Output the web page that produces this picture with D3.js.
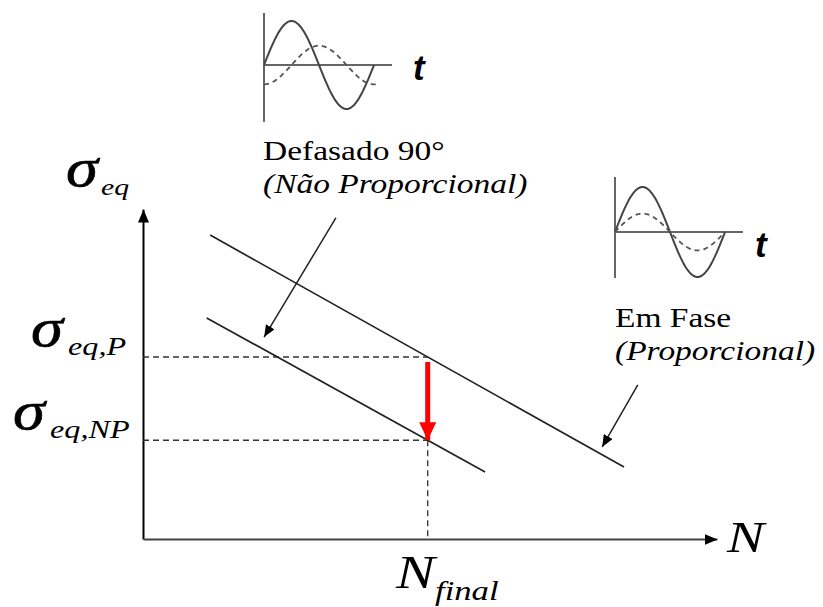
<!DOCTYPE html>
<html><head><meta charset="utf-8">
<script src="https://cdn.jsdelivr.net/npm/d3@7"></script>
<style>body{margin:0;background:#fff} svg{display:block}</style>
</head><body>
<svg id="chart" width="823" height="607"></svg>
<script>
// Stress vs. life curves, in abstract units (0..100 on both axes)
const inPhaseCurve = [{n: 11.7, s: 92.1}, {n: 83.8, s: 21.8}];
const outOfPhaseCurve = [{n: 11.1, s: 67.0}, {n: 59.6, s: 20.3}];
const nFinal = 49.6;
// Leader arrows from the captions to the curves
const pointerOutOfPhase = [{n: 33.6, s: 97.3}, {n: 21.1, s: 61.2}];
const pointerInPhase = [{n: 86.2, s: 46.7}, {n: 80.0, s: 27.9}];
// Inset waveforms: lag of the dashed signal (deg), its relative amplitude, and where it stops (deg)
const insetPhaseLag = [90, 0];
const insetDashedAmp = [0.44, 0.41];
const insetDashedEnd = [373, 352];

const svg = d3.select("#chart");
const x = d3.scaleLinear().domain([0, 100]).range([143, 717]);
const y = d3.scaleLinear().domain([0, 100]).range([539, 209]);
const SX = 1.24; // horizontal stretch of the lettering

const defs = svg.append("defs");
function marker(id, color, len, half) {
  defs.append("marker").attr("id", id)
    .attr("markerUnits", "userSpaceOnUse")
    .attr("viewBox", `0 ${-half} ${len} ${2 * half}`)
    .attr("refX", len).attr("refY", 0)
    .attr("markerWidth", len).attr("markerHeight", 2 * half)
    .attr("orient", "auto")
    .append("path").attr("d", `M0,${-half}L${len},0L0,${half}Z`).attr("fill", color);
}
marker("axisHead", "#000", 13, 5.5);
marker("leadHead", "#000", 12, 5);
marker("redHead", "#ff0000", 18, 8.5);

// Axes: bare domain lines with arrowheads
const gy = svg.append("g").attr("transform", `translate(${x(0)},0)`)
  .call(d3.axisLeft(y).tickValues([]).tickSizeOuter(0));
gy.select(".domain").attr("stroke", "#000").attr("stroke-width", 2).attr("marker-end", "url(#axisHead)");
const gx = svg.append("g").attr("transform", `translate(0,${y(0)})`)
  .call(d3.axisBottom(x).tickValues([]).tickSizeOuter(0));
gx.select(".domain").attr("stroke", "#444").attr("stroke-width", 2).attr("marker-end", "url(#axisHead)");

const line = d3.line().x(d => x(d.n)).y(d => y(d.s));
function at(curve, n) {
  const [a, b] = curve;
  return a.s + (b.s - a.s) * (n - a.n) / (b.n - a.n);
}
const sigmaP = at(inPhaseCurve, nFinal);
const sigmaNP = at(outOfPhaseCurve, nFinal);

// Dashed guides
const guide = svg.append("g").attr("stroke", "#333").attr("stroke-width", 1.3)
  .attr("stroke-dasharray", "6,4").attr("fill", "none");
guide.append("path").attr("d", line([{n: 0, s: sigmaP}, {n: nFinal, s: sigmaP}]));
guide.append("path").attr("d", line([{n: 0, s: sigmaNP}, {n: nFinal, s: sigmaNP}]));
guide.append("path").attr("d", line([{n: nFinal, s: sigmaNP}, {n: nFinal, s: 0}]));

// Curves
svg.append("path").attr("d", line(inPhaseCurve)).attr("stroke", "#222").attr("stroke-width", 1.7).attr("fill", "none");
svg.append("path").attr("d", line(outOfPhaseCurve)).attr("stroke", "#222").attr("stroke-width", 1.7).attr("fill", "none");

// Leader arrows
[pointerOutOfPhase, pointerInPhase].forEach(p => {
  svg.append("path").attr("d", line(p)).attr("stroke", "#222").attr("stroke-width", 1.5)
    .attr("fill", "none").attr("marker-end", "url(#leadHead)");
});

// Drop in strength at N_final
svg.append("path")
  .attr("d", `M${x(nFinal)},${y(sigmaP) + 5}L${x(nFinal)},${y(sigmaNP)}`)
  .attr("stroke", "#ff0000").attr("stroke-width", 5).attr("fill", "none")
  .attr("marker-end", "url(#redHead)");

// Waveform insets
function inset(i, ox, oy, amp, axTop, axBottom, axRight) {
  const g = svg.append("g");
  const xs = d3.scaleLinear().domain([0, 360]).range([ox, ox + 110]);
  const ys = d3.scaleLinear().domain([-1, 1]).range([oy + amp, oy - amp]);
  g.append("line").attr("x1", ox).attr("x2", ox).attr("y1", axTop).attr("y2", axBottom)
    .attr("stroke", "#666").attr("stroke-width", 2);
  g.append("line").attr("x1", ox).attr("x2", axRight).attr("y1", oy).attr("y2", oy)
    .attr("stroke", "#666").attr("stroke-width", 2);
  const wl = d3.line().x(d => xs(d[0])).y(d => ys(d[1])).curve(d3.curveBasis);
  const solid = d3.range(0, 361, 4).map(t => [t, Math.sin(t * Math.PI / 180)]);
  const dashed = d3.range(0, insetDashedEnd[i] + 1, 4)
    .map(t => [t, insetDashedAmp[i] * Math.sin((t - insetPhaseLag[i]) * Math.PI / 180)]);
  g.append("path").attr("d", wl(solid)).attr("stroke", "#444").attr("stroke-width", 2).attr("fill", "none");
  g.append("path").attr("d", wl(dashed)).attr("stroke", "#555").attr("stroke-width", 1.8)
    .attr("stroke-dasharray", "5,4").attr("fill", "none");
}
inset(0, 264, 65, 44, 13, 122, 392);
inset(1, 615, 232, 45, 177, 278, 743);

// Lettering
function label(px, py, str, size, opts = {}) {
  const t = svg.append("text")
    .attr("transform", `translate(${px},${py}) scale(${opts.sx || SX},1)`)
    .style("font-family", opts.family || "'Liberation Serif', 'Times New Roman', serif")
    .style("font-size", size + "px")
    .style("font-style", opts.italic ? "italic" : "normal")
    .style("font-weight", opts.bold ? "bold" : "normal")
    .attr("fill", "#000")
    .text(str);
  if (opts.heavy) t.attr("stroke", "#000").attr("stroke-width", opts.heavy);
}
label(263, 160, "Defasado 90°", 27);
label(263, 193, "(Não Proporcional)", 27, {italic: true});
label(615, 327, "Em Fase", 27);
label(615, 360, "(Proporcional)", 27, {italic: true});

const sans = "'Liberation Sans', Arial, sans-serif";
label(413, 80, "t", 35, {italic: true, bold: true, family: sans, sx: 1});
label(755, 257, "t", 35, {italic: true, bold: true, family: sans, sx: 1});

label(66, 186, "σ", 54, {italic: true, sx: 1.2, heavy: 0.6});
label(101, 195, "eq", 24, {italic: true});
label(31, 346, "σ", 54, {italic: true, sx: 1.2, heavy: 0.6});
label(68, 355, "eq,P", 26, {italic: true});
label(13, 429, "σ", 54, {italic: true, sx: 1.2, heavy: 0.6});
label(50, 438, "eq,NP", 26, {italic: true});

label(727, 552, "N", 45, {italic: true});
label(396, 588, "N", 47, {italic: true});
label(435, 600, "final", 28, {italic: true});
</script>
</body></html>
